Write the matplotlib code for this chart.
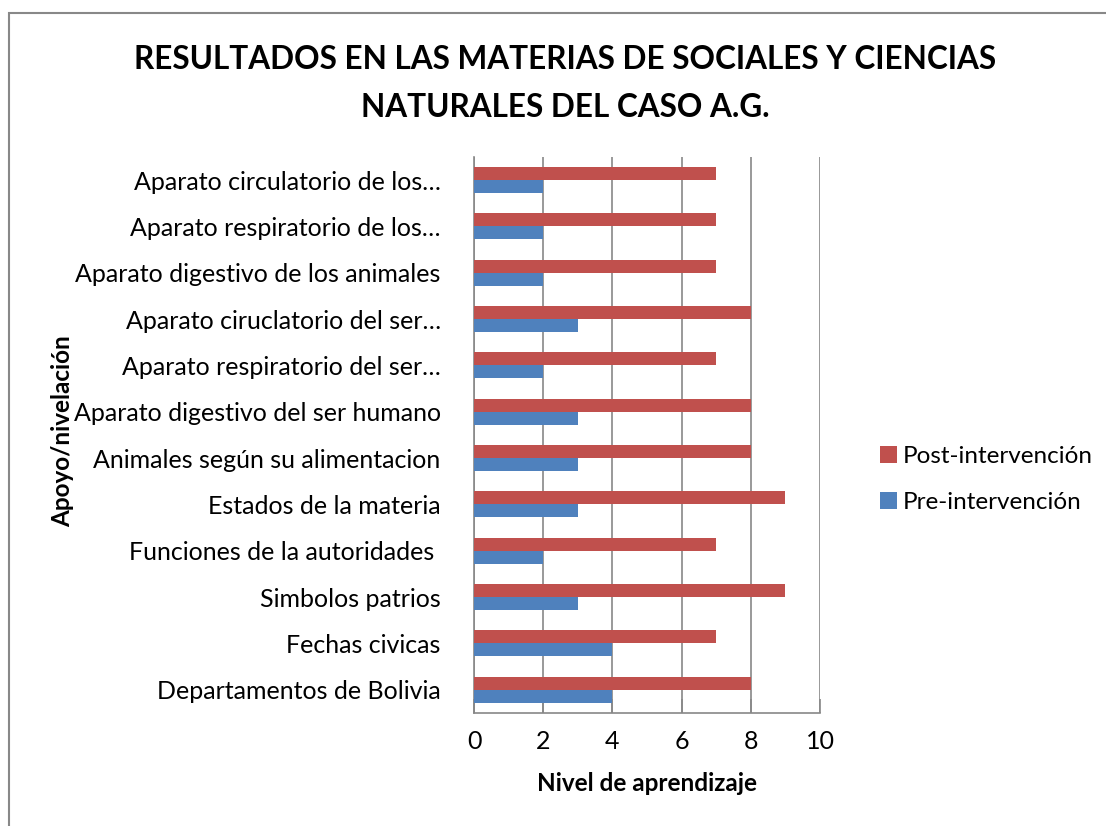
import numpy as np
import matplotlib.pyplot as plt
from matplotlib.patches import Rectangle

plt.rcParams['font.family'] = ['Lato', 'DejaVu Sans']

# categories listed bottom to top
categories = [
    'Departamentos de Bolivia',
    'Fechas civicas',
    'Simbolos patrios',
    'Funciones de la autoridades ',
    'Estados de la materia',
    'Animales según su alimentacion',
    'Aparato digestivo del ser humano',
    'Aparato respiratorio del ser…',
    'Aparato ciruclatorio del ser…',
    'Aparato digestivo de los animales',
    'Aparato respiratorio de los…',
    'Aparato circulatorio de los…',
]
pre = [4, 4, 3, 2, 3, 3, 3, 2, 3, 2, 2, 2]
post = [8, 7, 9, 7, 9, 8, 8, 7, 8, 7, 7, 7]

red = '#C0504D'
blue = '#4F81BD'

fig = plt.figure(figsize=(11.06, 8.26), dpi=100)
ax = fig.add_axes([0.4286, 0.137, 0.3128, 0.673])

# outer chart border (only top and left visible in the crop)
fig.patches.append(Rectangle((9 / 1106, -0.1), 1.2, 1 - 13 / 826 + 0.1,
                             transform=fig.transFigure, fill=False,
                             edgecolor='#888888', linewidth=1.5))

y = np.arange(len(categories))
h = 0.28
ax.barh(y - h / 2, pre, height=h, color=blue, label='Pre-intervención', zorder=3)
ax.barh(y + h / 2, post, height=h, color=red, label='Post-intervención', zorder=3)

ax.set_xlim(0, 10)
ax.set_ylim(-0.5, len(categories) - 0.5)
ax.set_xticks(range(0, 11, 2))
ax.set_yticks(y)
ax.set_yticklabels(categories)
ax.tick_params(axis='y', length=0, labelsize=18, pad=24)
ax.tick_params(axis='x', length=10, direction='in', labelsize=18, pad=12,
               color='#888888', width=1.2)
ax.grid(axis='x', color='#888888', linewidth=1.2, zorder=0)
for s in ['top', 'right']:
    ax.spines[s].set_visible(False)
ax.spines['bottom'].set_color('#888888')
ax.spines['bottom'].set_linewidth(1.2)
ax.spines['left'].set_color('#888888')
ax.spines['left'].set_linewidth(1.2)

ax.set_xlabel('Nivel de aprendizaje', fontsize=17.5, fontweight='bold', labelpad=14)
fig.text(0.057, 0.478, 'Apoyo/nivelación', rotation=90, fontsize=17.5,
         fontweight='bold', ha='center', va='center')

fig.suptitle('RESULTADOS EN LAS MATERIAS DE SOCIALES Y CIENCIAS\nNATURALES DEL CASO A.G.',
             x=0.511, y=0.946, fontsize=22.7, fontweight='bold', linespacing=1.8)

handles, labels = ax.get_legend_handles_labels()
ax.legend(handles[::-1], labels[::-1], loc='center left', bbox_to_anchor=(1.11, 0.42),
          frameon=False, fontsize=17.5, handlelength=0.7, handleheight=0.7,
          labelspacing=1.0, handletextpad=0.25)

fig.savefig('out.png', dpi=100)
